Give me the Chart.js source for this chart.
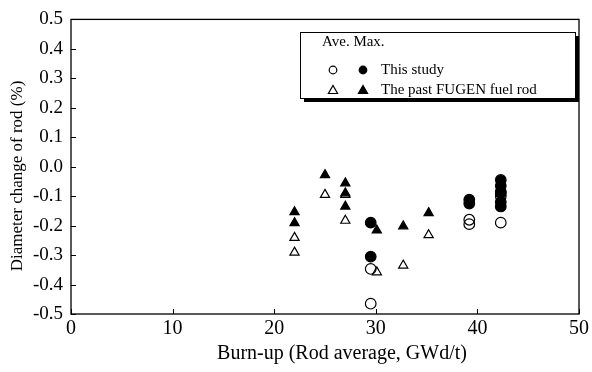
<!DOCTYPE html>
<html>
<head>
<meta charset="utf-8">
<script src="https://cdn.jsdelivr.net/npm/chart.js@4.4.1/dist/chart.umd.min.js"></script>
<style>
  html, body { margin: 0; padding: 0; background: #fff; }
  #wrap { width: 592px; height: 372px; }
</style>
</head>
<body>
<div id="wrap"><canvas id="rodChart" width="592" height="372"></canvas></div>
<script>
// Burn-up (GWd/t) vs diameter change (%)
const xTicks = [0, 10, 20, 30, 40, 50];
const yTicks = [-0.5, -0.4, -0.3, -0.2, -0.1, 0.0, 0.1, 0.2, 0.3, 0.4, 0.5];
const xTitle = 'Burn-up (Rod average, GWd/t)';
const yTitle = 'Diameter change of rod (%)';

// This study, average / maximum
const studyAveX = [29.5, 29.5, 39.2, 39.2, 42.3, 42.3, 42.3];
const studyAveY = [-0.347, -0.465, -0.18, -0.195, -0.085, -0.10, -0.19];
const studyMaxX = [29.5, 29.5, 39.2, 39.2, 42.3, 42.3, 42.3, 42.3, 42.3];
const studyMaxY = [-0.19, -0.305, -0.112, -0.125, -0.045, -0.065, -0.09, -0.12, -0.135];

// The past FUGEN fuel rod, average / maximum
const pastAveX = [22, 22, 25, 27, 27, 30.1, 32.7, 35.2];
const pastAveY = [-0.241, -0.291, -0.095, -0.095, -0.183, -0.358, -0.335, -0.232];
const pastMaxX = [22, 22, 25, 27, 27, 27, 30.1, 32.7, 35.2];
const pastMaxY = [-0.154, -0.191, -0.028, -0.056, -0.09, -0.135, -0.216, -0.202, -0.157];

const toPoints = (xs, ys) => xs.map((x, i) => ({ x: x, y: ys[i] }));
const serif = "'Liberation Serif', 'Times New Roman', serif";

function markerSet(label, xs, ys, style, filled, radius) {
    return {
        label: label,
        data: toPoints(xs, ys),
        pointStyle: style,
        pointRadius: radius,
        pointBorderWidth: 1.2,
        pointBorderColor: '#000',
        pointBackgroundColor: filled ? '#000' : 'rgba(0,0,0,0)',
        showLine: false
    };
}

// frame round the plot, short inward ticks on left/bottom, axis titles
const framePlugin = {
    id: 'frame',
    afterDatasetsDraw(chart) {
        const { ctx, chartArea: a, scales } = chart;
        ctx.save();
        ctx.strokeStyle = '#000';
        ctx.lineWidth = 1.3;
        ctx.strokeRect(a.left, a.top, a.right - a.left, a.bottom - a.top);
        ctx.lineWidth = 1;
        ctx.beginPath();
        xTicks.forEach(v => {
            const px = Math.round(scales.x.getPixelForValue(v)) + 0.5;
            ctx.moveTo(px, a.bottom);
            ctx.lineTo(px, a.bottom - 5);
        });
        yTicks.forEach(v => {
            const py = Math.round(scales.y.getPixelForValue(v)) + 0.5;
            ctx.moveTo(a.left, py);
            ctx.lineTo(a.left + 5, py);
        });
        ctx.stroke();

        ctx.fillStyle = '#000';
        ctx.textAlign = 'center';
        ctx.textBaseline = 'middle';
        ctx.font = '20px ' + serif;
        ctx.fillText(xTitle, 342, 354);
        ctx.translate(18, 176);
        ctx.rotate(-Math.PI / 2);
        ctx.font = '17px ' + serif;
        ctx.fillText(yTitle, 0, 0);
        ctx.restore();
    }
};

function drawMarker(ctx, kind, x, y, filled) {
    ctx.beginPath();
    if (kind === 'circle') {
        ctx.arc(x, y, 3.8, 0, Math.PI * 2);
    } else {
        ctx.moveTo(x, y - 5);
        ctx.lineTo(x + 4.6, y + 3);
        ctx.lineTo(x - 4.6, y + 3);
        ctx.closePath();
    }
    if (filled) { ctx.fillStyle = '#000'; ctx.fill(); }
    ctx.lineWidth = 1.2;
    ctx.strokeStyle = '#000';
    ctx.stroke();
}

// boxed legend with shadow, two marker columns
const keyPlugin = {
    id: 'keyBox',
    afterDraw(chart) {
        const ctx = chart.ctx;
        const bx = 300, by = 32, bw = 275, bh = 66;
        ctx.save();
        ctx.fillStyle = '#000';
        ctx.fillRect(bx + 4, by + 4, bw, bh);
        ctx.fillStyle = '#fff';
        ctx.fillRect(bx, by, bw, bh);
        ctx.strokeStyle = '#000';
        ctx.lineWidth = 1;
        ctx.strokeRect(bx + 0.5, by + 0.5, bw, bh);

        ctx.fillStyle = '#000';
        ctx.font = '15px ' + serif;
        ctx.textBaseline = 'middle';
        ctx.fillText('Ave. Max.', 322, 42);
        drawMarker(ctx, 'circle', 333, 70, false);
        drawMarker(ctx, 'circle', 363, 70, true);
        ctx.fillStyle = '#000';
        ctx.fillText('This study', 381, 70);
        drawMarker(ctx, 'triangle', 333, 90.5, false);
        drawMarker(ctx, 'triangle', 363, 90.5, true);
        ctx.fillStyle = '#000';
        ctx.fillText('The past FUGEN fuel rod', 381, 90.5);
        ctx.restore();
    }
};

const ctxRod = document.getElementById('rodChart').getContext('2d');
new Chart(ctxRod, {
    type: 'scatter',
    data: {
        datasets: [
            markerSet('Ave. (past FUGEN)', pastAveX, pastAveY, 'triangle', false, 5.3),
            markerSet('Ave. (this study)', studyAveX, studyAveY, 'circle', false, 5.3),
            markerSet('Max. (past FUGEN)', pastMaxX, pastMaxY, 'triangle', true, 5.3),
            markerSet('Max. (this study)', studyMaxX, studyMaxY, 'circle', true, 5.3)
        ]
    },
    options: {
        responsive: false,
        animation: false,
        layout: { padding: { top: 16, right: 12 } },
        plugins: {
            legend: { display: false },
            tooltip: { enabled: false }
        },
        scales: {
            x: {
                type: 'linear',
                min: xTicks[0],
                max: xTicks[xTicks.length - 1],
                afterFit(scale) { scale.height = 58; },
                afterBuildTicks(scale) { scale.ticks = xTicks.map(v => ({ value: v })); },
                grid: { display: false, drawTicks: false },
                border: { display: false },
                ticks: {
                    padding: 3,
                    color: '#000',
                    font: { family: serif, size: 20 },
                    maxRotation: 0
                }
            },
            y: {
                type: 'linear',
                min: yTicks[0],
                max: yTicks[yTicks.length - 1],
                afterFit(scale) { scale.width = 71; },
                afterBuildTicks(scale) { scale.ticks = yTicks.map(v => ({ value: v })); },
                grid: { display: false, drawTicks: false },
                border: { display: false },
                ticks: {
                    padding: 8,
                    color: '#000',
                    font: { family: serif, size: 19 },
                    callback: v => (Math.abs(v) < 1e-9 ? '0.0' : v.toFixed(1))
                }
            }
        }
    },
    plugins: [framePlugin, keyPlugin]
});
</script>
</body>
</html>
